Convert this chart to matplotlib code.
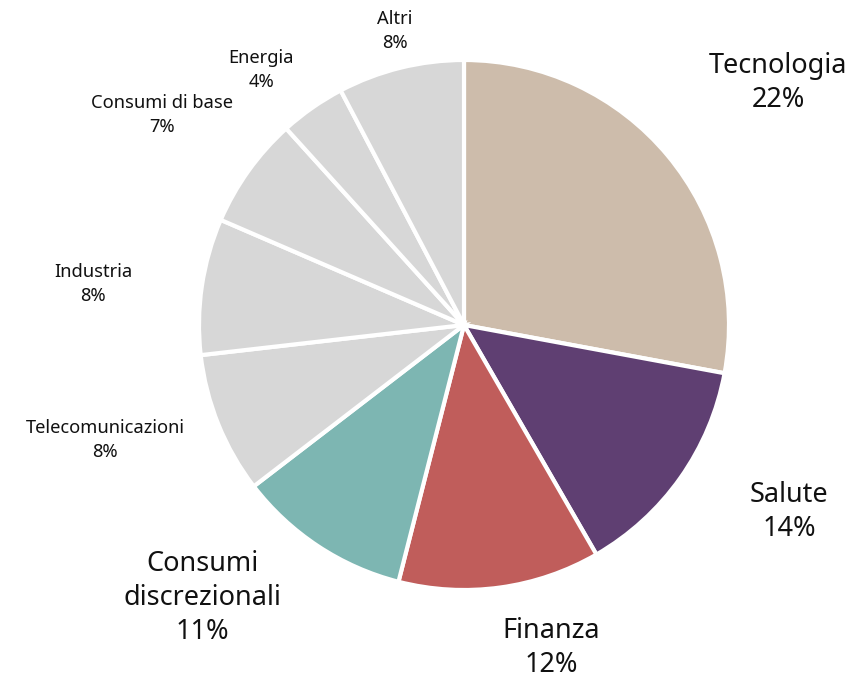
import numpy as np
import matplotlib.pyplot as plt

plt.rcParams['font.family'] = ['Noto Sans', 'DejaVu Sans']

# sectors, clockwise from 12 o'clock
sectors = ['Tecnologia', 'Salute', 'Finanza', 'Consumi\ndiscrezionali',
           'Telecomunicazioni', 'Industria', 'Consumi di base', 'Energia', 'Altri']
# slice sizes as drawn (angles)
sizes = [27.9, 13.75, 12.3, 10.6, 8.6, 8.3, 6.8, 4.0, 7.7]
# percentages printed in the labels
shown_pct = [22, 14, 12, 11, 8, 8, 7, 4, 8]

colors = ['#cdbcab', '#5f3f72', '#c05d5b', '#7db6b2',
          '#d7d7d7', '#d7d7d7', '#d7d7d7', '#d7d7d7', '#d7d7d7']
big = [True, True, True, True, False, False, False, False, False]

# label centres in pixels (x from left, y from top)
label_px = [(778, 83), (789, 512), (551, 648), (202, 598),
            (105, 440), (93, 284), (162, 115), (261, 70), (395, 31)]

W, H = 867, 681
cx, cy, R = 464, 325, 265

fig = plt.figure(figsize=(W / 100, H / 100), dpi=100)
ax = fig.add_axes([0, 0, 1, 1])
ax.pie(sizes, colors=colors, startangle=90, counterclock=False, radius=1,
       wedgeprops=dict(edgecolor='white', linewidth=3))
ax.set_xlim(-cx / R, (W - cx) / R)
ax.set_ylim(-(H - cy) / R, cy / R)
ax.set_aspect('equal')
ax.axis('off')

for name, pct, isbig, (px, py) in zip(sectors, shown_pct, big, label_px):
    x = (px - cx) / R
    y = (cy - py) / R
    ax.text(x, y, f'{name}\n{pct}%', ha='center', va='center',
            fontsize=19.5 if isbig else 13.2, linespacing=1.3 if isbig else 1.4,
            color='#111111')

fig.savefig('out.png', dpi=100)
